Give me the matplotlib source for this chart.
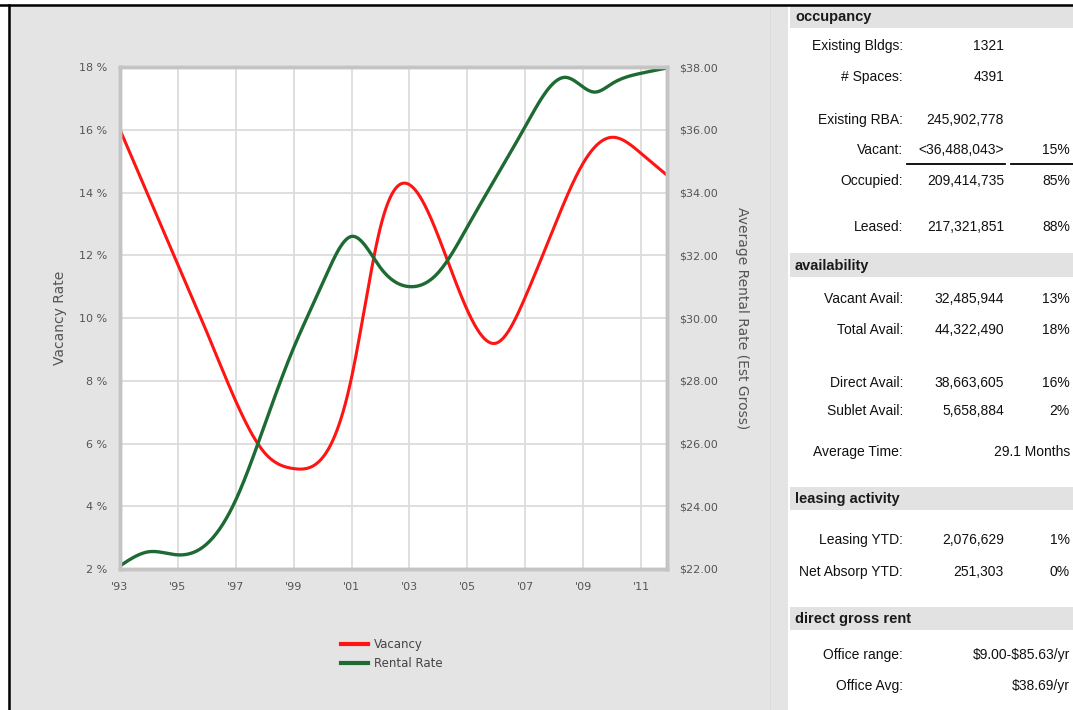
import numpy as np
import matplotlib
matplotlib.use("Agg")
import matplotlib.pyplot as plt
from matplotlib.patches import Rectangle
from matplotlib.lines import Line2D

# ---------------- data ----------------
vac_years = [1993, 1994, 1995, 1996, 1997, 1998, 1999, 2000, 2001, 2002,
             2003, 2004, 2005, 2006, 2007, 2008, 2009, 2010, 2011, 2011.9]
vacancy = [16.0, 13.85, 11.7, 9.55, 7.35, 5.7, 5.2, 5.55, 8.1, 12.9,
           14.25, 12.6, 10.25, 9.2, 10.66, 12.9, 14.93, 15.76, 15.25, 14.55]

rent_years = [1993, 1994, 1995, 1996, 1997, 1998, 1999, 2000, 2001, 2002,
              2003, 2004, 2005, 2006, 2007, 2008.4, 2009.4, 2010, 2011, 2011.9]
rent = [22.1, 22.55, 22.45, 22.8, 24.2, 26.6, 29.05, 31.1, 32.6, 31.6,
        31.0, 31.45, 32.9, 34.5, 36.1, 37.67, 37.2, 37.47, 37.8, 37.97]

x_ticks = [1993, 1995, 1997, 1999, 2001, 2003, 2005, 2007, 2009, 2011]
x_tick_labels = ["'93", "'95", "'97", "'99", "'01", "'03", "'05", "'07", "'09", "'11"]
vac_ticks = [2, 4, 6, 8, 10, 12, 14, 16, 18]
rent_ticks = [22, 24, 26, 28, 30, 32, 34, 36, 38]

sections = ["occupancy", "availability", "leasing activity", "direct gross rent"]
occ_labels = ["Existing Bldgs:", "# Spaces:", "Existing RBA:", "Vacant:", "Occupied:", "Leased:"]
occ_values = ["1321", "4391", "245,902,778", "<36,488,043>", "209,414,735", "217,321,851"]
occ_pcts = ["", "", "", "15%", "85%", "88%"]
avail_labels = ["Vacant Avail:", "Total Avail:", "Direct Avail:", "Sublet Avail:", "Average Time:"]
avail_values = ["32,485,944", "44,322,490", "38,663,605", "5,658,884", ""]
avail_pcts = ["13%", "18%", "16%", "2%", "29.1 Months"]
lease_labels = ["Leasing YTD:", "Net Absorp YTD:"]
lease_values = ["2,076,629", "251,303"]
lease_pcts = ["1%", "0%"]
rent_labels = ["Office range:", "Office Avg:"]
rent_values = ["$9.00-$85.63/yr", "$38.69/yr"]


def smooth(x, y, n=500):
    x = np.asarray(x, float)
    y = np.asarray(y, float)
    nn = len(x)
    h = np.diff(x)
    A = np.zeros((nn, nn))
    r = np.zeros(nn)
    A[0, 0] = A[-1, -1] = 1
    for i in range(1, nn - 1):
        A[i, i - 1] = h[i - 1]
        A[i, i] = 2 * (h[i - 1] + h[i])
        A[i, i + 1] = h[i]
        r[i] = 3 * ((y[i + 1] - y[i]) / h[i] - (y[i] - y[i - 1]) / h[i - 1])
    c = np.linalg.solve(A, r)
    b = (y[1:] - y[:-1]) / h - h * (2 * c[:-1] + c[1:]) / 3
    d = (c[1:] - c[:-1]) / (3 * h)
    xs = np.linspace(x[0], x[-1], n)
    idx = np.clip(np.searchsorted(x, xs) - 1, 0, nn - 2)
    dx = xs - x[idx]
    ys = y[idx] + b[idx] * dx + c[idx] * dx ** 2 + d[idx] * dx ** 3
    return xs, ys


W, H = 1073, 710
fig = plt.figure(figsize=(W / 100, H / 100), dpi=100)
fig.patch.set_facecolor("white")


def fx(px):
    return px / W


def fy(py):
    return 1 - py / H


# chart panel background
fig.add_artist(Rectangle((fx(8), 0), fx(788 - 8), fy(5), transform=fig.transFigure,
                         facecolor="#e4e4e4", edgecolor="none", zorder=0))
# borders
fig.add_artist(Line2D([0, 1], [fy(4.5), fy(4.5)], transform=fig.transFigure,
                      color="black", lw=1.8, zorder=5))
fig.add_artist(Line2D([fx(8.5), fx(8.5)], [0, fy(4.5)], transform=fig.transFigure,
                      color="black", lw=1.8, zorder=5))
fig.add_artist(Line2D([fx(770), fx(770)], [0, fy(5)], transform=fig.transFigure,
                      color="#dadada", lw=0.6, zorder=1))

# ---------------- chart ----------------
L, R, T, B = 120, 667, 67, 569
ax = fig.add_axes([fx(L), fy(B), fx(R - L), (B - T) / H])
ax.set_facecolor("white")
ax2 = ax.twinx()

red = "#ff1414"
green = "#1d6a33"

xs, ys = smooth(vac_years, vacancy)
ax.plot(xs, ys, color=red, lw=2.2, solid_capstyle="round")
xs2, ys2 = smooth(rent_years, rent)
ax2.plot(xs2, ys2, color=green, lw=2.4, solid_capstyle="round")

ax.set_xlim(1993, 2011.9)
ax.set_ylim(2, 18)
ax2.set_ylim(22, 38)
ax.set_xticks(x_ticks)
ax.set_xticklabels(x_tick_labels)
ax.set_yticks(vac_ticks)
ax.set_yticklabels([f"{v} %" for v in vac_ticks])
ax2.set_yticks(rent_ticks)
ax2.set_yticklabels([f"${v:.2f}" for v in rent_ticks])

ax.grid(True, color="#dcdcdc", lw=1.3)
ax.set_axisbelow(True)
for a in (ax, ax2):
    for s in a.spines.values():
        s.set_color("#c4c4c4")
        s.set_linewidth(2.5)
    a.tick_params(length=0, labelsize=8, labelcolor="#555555")
ax.tick_params(axis="y", pad=9)
ax.tick_params(axis="x", pad=9)
ax2.tick_params(axis="y", pad=9)

fig.text(fx(60), fy(318), "Vacancy Rate", rotation=90, ha="center", va="center",
         fontsize=10, color="#555555")
fig.text(fx(742), fy(318), "Average Rental Rate (Est Gross)", rotation=-90,
         ha="center", va="center", fontsize=10, color="#555555")

# legend
handles = [Line2D([], [], color=red, lw=3), Line2D([], [], color=green, lw=3)]
fig.legend(handles, ["Vacancy", "Rental Rate"], loc="center",
           bbox_to_anchor=(fx(392), fy(654)), frameon=False, fontsize=8.5,
           handlelength=2.3, handletextpad=0.5, labelspacing=0.45,
           labelcolor="#444444")

# ---------------- table ----------------
fig.add_artist(Rectangle((fx(789), 0), fx(W - 789), fy(5.5), transform=fig.transFigure,
                         facecolor="white", edgecolor="none", zorder=1))
tfont = ["Liberation Sans Narrow", "Liberation Sans", "DejaVu Sans"]
band_y = [(6, 28), (253, 277), (487, 510), (607, 630)]
for name, (y0, y1) in zip(sections, band_y):
    fig.add_artist(Rectangle((fx(790), fy(y1)), fx(W - 790), (y1 - y0) / H,
                             transform=fig.transFigure, facecolor="#e2e2e2",
                             edgecolor="none", zorder=2))
    fig.text(fx(795), fy((y0 + y1) / 2 + 0.5), name, ha="left", va="center",
             fontsize=10.5, fontweight="bold", family=tfont, color="#1a1a1a", zorder=3)

LABEL_X, VALUE_X, PCT_X = 903, 1004, 1070


def row(y, label, value, pct):
    kw = dict(va="center", fontsize=10, family=tfont, color="#111111", zorder=3,
              parse_math=False)
    fig.text(fx(LABEL_X), fy(y), label, ha="right", **kw)
    if value:
        fig.text(fx(VALUE_X), fy(y), value, ha="right", **kw)
    if pct:
        fig.text(fx(PCT_X), fy(y), pct, ha="right", **kw)


for y, l, v, p in zip([46, 77, 120, 150, 181, 227], occ_labels, occ_values, occ_pcts):
    row(y, l, v, p)
for y, l, v, p in zip([299, 330, 383, 411, 452], avail_labels, avail_values, avail_pcts):
    row(y, l, v, p)
for y, l, v, p in zip([540, 572], lease_labels, lease_values, lease_pcts):
    row(y, l, v, p)
for y, l, v in zip([655, 686], rent_labels, rent_values):
    row(y, l, "", v)

# underline under Vacant
fig.add_artist(Line2D([fx(907), fx(1005)], [fy(164), fy(164)], transform=fig.transFigure,
                      color="black", lw=1.3, zorder=3))
fig.add_artist(Line2D([fx(1011), fx(1073)], [fy(164), fy(164)], transform=fig.transFigure,
                      color="black", lw=1.3, zorder=3))

fig.savefig("out.png", dpi=100)
